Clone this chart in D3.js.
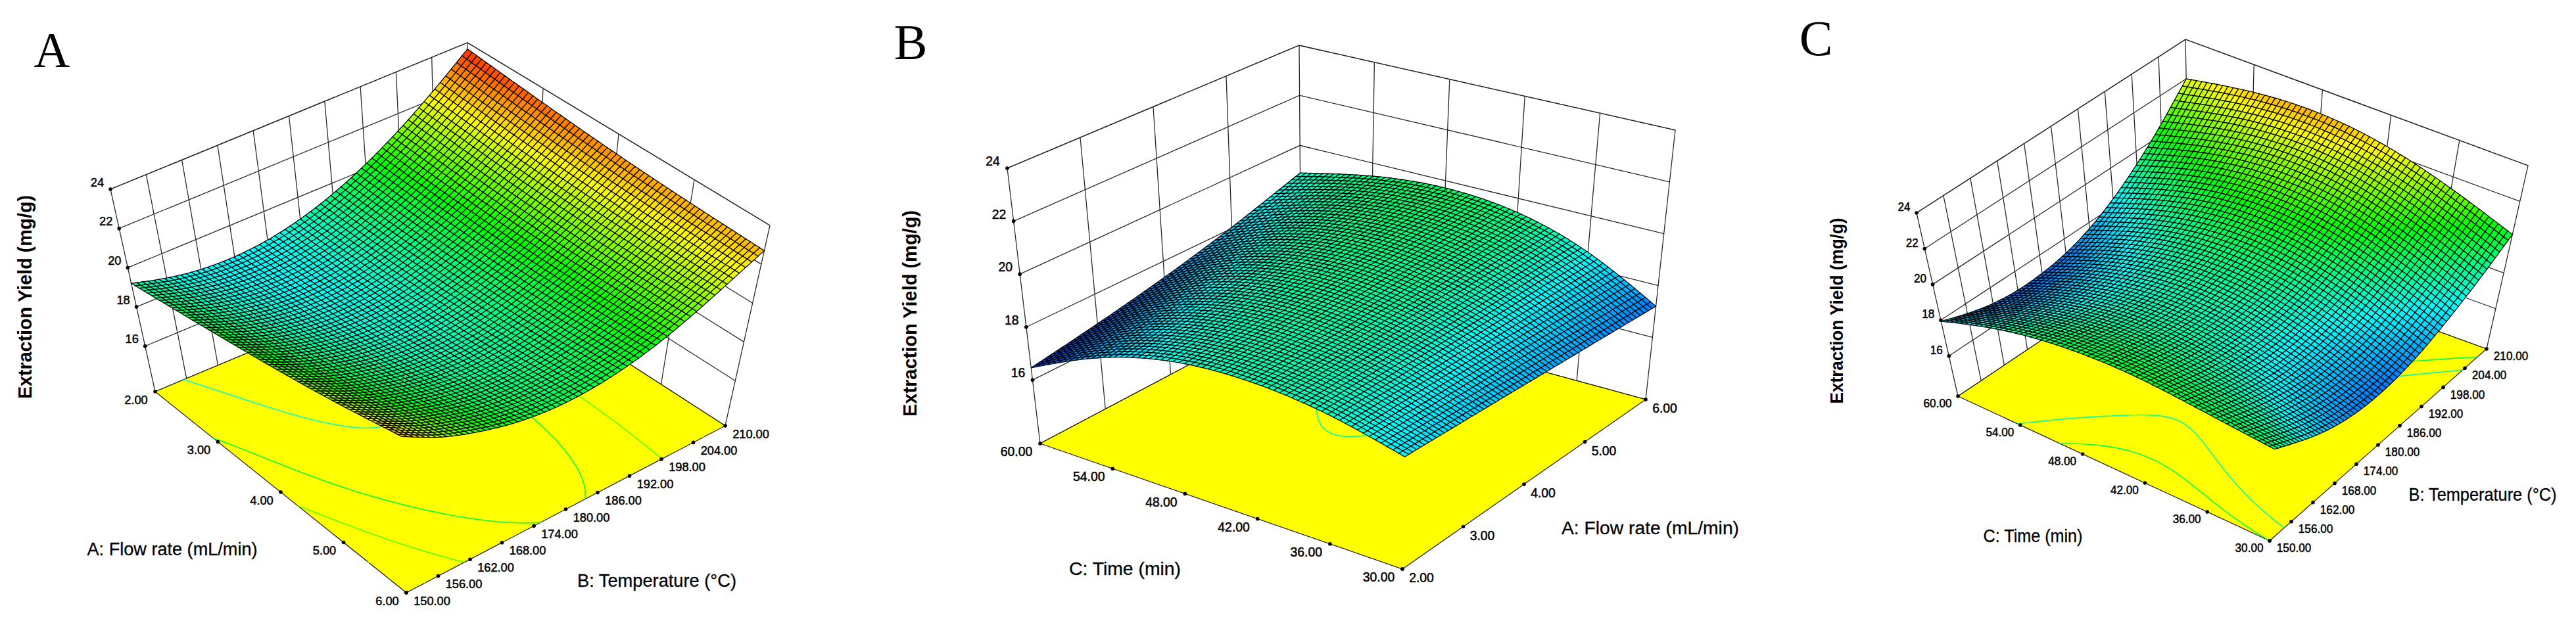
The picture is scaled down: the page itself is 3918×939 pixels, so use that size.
<!DOCTYPE html>
<html><head><meta charset="utf-8">
<style>html,body{margin:0;background:#fff}svg{display:block}</style>
<script src="https://cdnjs.cloudflare.com/ajax/libs/d3/7.8.5/d3.min.js"></script>
</head><body><svg id="c" width="3918" height="939"></svg>
<script>
// Axis tick values
const flowTicks = [2,3,4,5,6];
const tempTicks = [150,156,162,168,174,180,186,192,198,204,210];
const timeTicks = [60,54,48,42,36,30];
const yieldTicks = [16,18,20,22,24];

// Panel A: rows = flow rate 2..6, columns = temperature 150..210
const yieldA = [
 [19.20,18.73,18.47,18.41,18.55,18.90,19.45,20.21,21.17,22.33,23.70],
 [19.95,19.20,18.77,18.55,18.57,18.83,19.32,19.99,20.90,22.01,23.31],
 [20.75,19.84,19.26,18.90,18.80,18.95,19.35,19.94,20.76,21.82,23.00],
 [21.65,20.63,19.96,19.47,19.25,19.28,19.56,20.04,20.78,21.74,22.81],
 [22.80,21.60,20.85,20.25,19.90,19.80,19.95,20.32,20.95,21.80,22.70]
];
// Panel B: rows = time 60..30, columns = flow rate 2..6
const yieldB = [
 [16.46,16.85,17.35,18.00,18.90],
 [17.98,18.37,18.77,19.16,19.55],
 [18.87,19.10,19.34,19.57,19.80],
 [19.15,19.15,19.25,19.40,19.55],
 [18.97,18.90,18.84,18.77,18.70],
 [18.30,18.03,17.75,17.48,17.20]
];
// Panel C: rows = time 60..30, columns = temperature 150..210
const yieldC = [
 [17.94,17.45,17.10,16.95,17.00,17.20,17.65,18.35,19.30,20.50,22.00],
 [19.30,18.91,18.56,18.41,18.42,18.61,18.98,19.61,20.43,21.46,22.65],
 [20.05,19.67,19.31,19.13,19.11,19.29,19.62,20.19,20.95,21.84,22.85],
 [20.30,19.80,19.37,19.11,19.03,19.17,19.45,19.98,20.68,21.50,22.40],
 [20.00,19.40,18.84,18.46,18.29,18.34,18.58,19.08,19.74,20.52,21.40],
 [19.75,18.85,18.05,17.50,17.20,17.15,17.35,17.80,18.45,19.20,20.15]
];
const contourLevelsA = [18.8,19.9,21.0,22.1,23.2];
const contourLevelsB = [19.25];
const contourLevelsC = [19.15,19.75];
const rampStops = [16,18.5,20.4,22.2,24];
const rampColors = ["#0000ff","#00ffff","#00ff00","#ffff00","#ff0000"];

const zTitle = "Extraction Yield (mg/g)";
const panels = [
 { letter:"A", letterX:79, letterY:102, values:yieldA, levels:contourLevelsA, uTicks:flowTicks, vTicks:tempTicks,
   floorZ:13.68,
   floor:[[236,596],[618,902],[1103,648],[713,396]],
   top:[[168,288],[610,633],[1171,343],[711,65]],
   font:19, squeeze:.96,
   zOff:[-20,-11], uOff:[-29,12], vOff:[39,12],
   uTitle:"A: Flow rate (mL/min)", uT:[262,836,259],
   vTitle:"B: Temperature (°C)", vT:[999,884,242],
   zT:[48,452,310], zSize:29 },
 { letter:"B", letterX:1385, letterY:90, values:yieldB, levels:contourLevelsB, uTicks:timeTicks, vTicks:flowTicks,
   floorZ:13.6,
   floor:[[1582,675],[2133,866],[2503,608],[1979,465]],
   top:[[1532,256],[2141,488],[2548,198],[1976,69]],
   font:20, squeeze:.97,
   zOff:[-22,-11], uOff:[-36,12], vOff:[29,13],
   uTitle:"C: Time (min)", uT:[1711,866,170],
   vTitle:"A: Flow rate (mL/min)", vT:[2510,804,270],
   zT:[1394,477,314], zSize:30 },
 { letter:"C", letterX:2762, letterY:84, values:yieldC, levels:contourLevelsC, uTicks:timeTicks, vTicks:tempTicks,
   floorZ:13.75,
   floor:[[2978,603],[3452,823],[3782,531],[3330,367]],
   top:[[2915,324],[3465,585],[3845,252],[3324,60]],
   font:18, squeeze:.95,
   zOff:[-19,-9], uOff:[-31,11], vOff:[37,11],
   uTitle:"C: Time (min)", uT:[3092,816,151],
   vTitle:"B: Temperature (°C)", vT:[3776,753,225],
   zT:[2803,473,283], zSize:27 }
];

const MESH = 64;
const svg = d3.select("#c");
const color = d3.scaleLinear().domain(rampStops).range(rampColors);
const fmt = d3.format(".2f");
const lerp = (a,b,t)=>a+(b-a)*t;

// Smooth resampling of the read grid so the surface can be meshed as finely as the reference.
function resample(grid, n){
  const cols = d3.transpose(grid).map(c=>d3.interpolateBasis(c));
  const out = [];
  for(let i=0;i<=n;i++){
    const row = d3.interpolateBasis(cols.map(f=>f(i/n)));
    out.push(d3.range(n+1).map(j=>row(j/n)));
  }
  return out;
}

panels.forEach(p=>{
  const g = svg.append("g");
  const uS = d3.scaleLinear().domain([p.uTicks[0],p.uTicks[p.uTicks.length-1]]).range([0,1]);
  const vS = d3.scaleLinear().domain([p.vTicks[0],p.vTicks[p.vTicks.length-1]]).range([0,1]);
  const zS = d3.scaleLinear().domain([p.floorZ,24]).range([0,1]);
  const bil = (q,u,v,k)=>lerp(lerp(q[0][k],q[1][k],u),lerp(q[3][k],q[2][k],u),v);
  const proj = (u,v,w)=>[0,1].map(k=>lerp(bil(p.floor,u,v,k),bil(p.top,u,v,k),w));
  const line = d3.line();
  const wire = pts=>g.append("path").attr("d",line(pts)).attr("fill","none")
      .attr("stroke","#2a2a2a").attr("stroke-width",1.3);

  // back walls
  g.append("path").attr("d",line([proj(0,0,0),proj(0,0,1),proj(0,1,1),proj(1,1,1),proj(1,1,0),proj(0,1,0),proj(0,0,0)])+"Z")
   .attr("fill","#fff").attr("stroke","#2a2a2a").attr("stroke-width",1.3);
  wire([proj(0,1,0),proj(0,1,1)]);
  yieldTicks.forEach(z=>{const w=zS(z); wire([proj(0,0,w),proj(0,1,w),proj(1,1,w)]);});
  p.vTicks.slice(1,-1).forEach(t=>{const v=vS(t); wire([proj(0,v,0),proj(0,v,1)]);});
  p.uTicks.slice(1,-1).forEach(t=>{const u=uS(t); wire([proj(u,1,0),proj(u,1,1)]);});

  // floor
  g.append("path").attr("d",line([proj(0,0,0),proj(1,0,0),proj(1,1,0),proj(0,1,0)])+"Z")
   .attr("fill","#ffff00").attr("stroke","#1a1a1a").attr("stroke-width",1.2);

  // floor contours
  const fine = resample(p.values,MESH);
  const N = MESH+1;
  const flat = fine.flat();
  const contours = d3.contours().size([N,N]).thresholds(p.levels)(flat);
  contours.forEach(c=>{
    const segs=[];
    c.coordinates.forEach(poly=>poly.forEach(ring=>{
      let cur=[];
      ring.forEach(([x,y])=>{
        if(x<=0.01||y<=0.01||x>=N-0.01||y>=N-0.01){ if(cur.length>1) segs.push(cur); cur=[]; }
        else cur.push(proj(Math.min(1,Math.max(0,(y-.5)/(N-1))),Math.min(1,Math.max(0,(x-.5)/(N-1))),0));
      });
      if(cur.length>1) segs.push(cur);
    }));
    g.append("path").attr("d",segs.map(s=>line(s)).join(""))
     .attr("fill","none").attr("stroke",color(c.value)).attr("stroke-width",1.6);
  });

  // surface, painted from the back corner forward
  const cells=[];
  for(let i=0;i<MESH;i++) for(let j=0;j<MESH;j++) cells.push([i,j]);
  cells.sort((a,b)=>(a[0]-a[1])-(b[0]-b[1]));
  g.append("g").selectAll("path").data(cells).join("path")
   .attr("d",([i,j])=>{
     const P=(a,b)=>proj(a/MESH,b/MESH,zS(fine[a][b]));
     return line([P(i,j),P(i+1,j),P(i+1,j+1),P(i,j+1)])+"Z";
   })
   .attr("fill",([i,j])=>color((fine[i][j]+fine[i+1][j]+fine[i][j+1]+fine[i+1][j+1])/4))
   .attr("stroke","#000").attr("stroke-width",1.25);

  // tick dots
  const dot=pt=>g.append("circle").attr("cx",pt[0]).attr("cy",pt[1]).attr("r",2.8).attr("fill","#000");
  const label=(pt,off,txt)=>g.append("text")
     .attr("transform",`translate(${pt[0]+off[0]},${pt[1]+off[1]}) scale(${p.squeeze},1)`)
     .attr("text-anchor","middle").attr("dominant-baseline","central")
     .attr("font-family","'Liberation Sans'").attr("font-size",p.font).attr("fill","#000")
     .attr("stroke","#000").attr("stroke-width",.5).text(txt);
  yieldTicks.forEach(z=>{const pt=proj(0,0,zS(z)); dot(pt); label(pt,p.zOff,String(z));});
  p.uTicks.forEach(t=>{const pt=proj(uS(t),0,0); dot(pt); label(pt,p.uOff,fmt(t));});
  p.vTicks.forEach(t=>{const pt=proj(1,vS(t),0); dot(pt); label(pt,p.vOff,fmt(t));});

  // titles
  const title=(txt,[x,y,len])=>g.append("text")
     .attr("transform",`translate(${x},${y})`)
     .attr("text-anchor","middle").attr("dominant-baseline","central")
     .attr("font-family","'Liberation Sans'").attr("font-size",27)
     .attr("textLength",len).attr("lengthAdjust","spacingAndGlyphs").attr("fill","#000")
     .attr("stroke","#000").attr("stroke-width",.3).text(txt);
  title(p.uTitle,p.uT);
  title(p.vTitle,p.vT);
  g.append("text").attr("transform",`translate(${p.zT[0]},${p.zT[1]}) rotate(-90)`)
     .attr("text-anchor","middle").attr("font-family","'Liberation Sans'")
     .attr("font-size",p.zSize).attr("font-weight","bold")
     .attr("textLength",p.zT[2]).attr("lengthAdjust","spacingAndGlyphs").attr("fill","#000").text(zTitle);

  g.append("text").attr("x",p.letterX).attr("y",p.letterY).attr("text-anchor","middle")
   .attr("font-family","'Liberation Serif'").attr("font-size",76).attr("fill","#000").text(p.letter);
});
</script></body></html>
